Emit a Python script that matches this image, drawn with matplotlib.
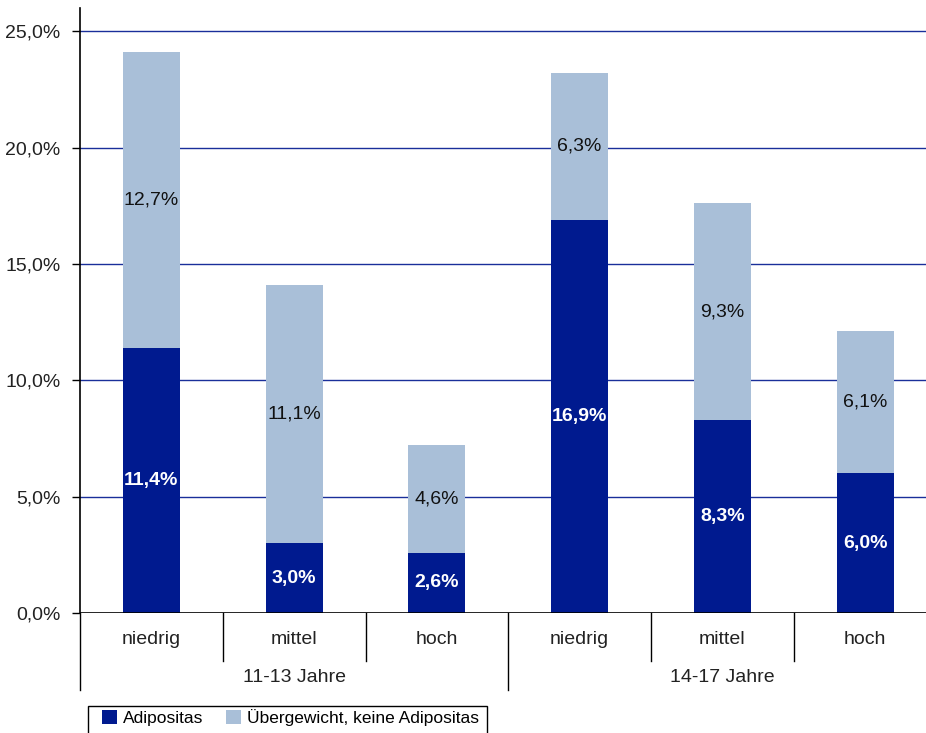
import numpy as np
import matplotlib.pyplot as plt
from matplotlib.patches import Patch, Rectangle

plt.rcParams['font.family'] = ['Liberation Sans', 'DejaVu Sans']

# data
groups = ['11-13 Jahre', '14-17 Jahre']
subcats = ['niedrig', 'mittel', 'hoch', 'niedrig', 'mittel', 'hoch']
adipositas = [11.4, 3.0, 2.6, 16.9, 8.3, 6.0]
uebergewicht = [12.7, 11.1, 4.6, 6.3, 9.3, 6.1]
series_names = ['Adipositas', 'Übergewicht, keine Adipositas']

DARK = '#001a8f'
LIGHT = '#a9bfd8'
GRID = '#1a2f9a'
FS = 14

W, H = 926, 733
fig = plt.figure(figsize=(W / 100, H / 100), dpi=100)
left, right = 80, 936.5
top, bottom = 8, 613
ax = fig.add_axes([left / W, 1 - bottom / H, (right - left) / W, (bottom - top) / H])

x = np.arange(len(subcats))
ax.bar(x, adipositas, width=0.4, color=DARK, zorder=3)
ax.bar(x, uebergewicht, width=0.4, bottom=adipositas, color=LIGHT, zorder=3)

def fmt(v):
    return f'{v:.1f}%'.replace('.', ',')

for xi, a, u in zip(x, adipositas, uebergewicht):
    ax.text(xi, a / 2, fmt(a), ha='center', va='center', color='white',
            fontweight='bold', fontsize=FS, zorder=4)
    ax.text(xi, a + u / 2, fmt(u), ha='center', va='center', color='#111111',
            fontsize=FS, zorder=4)

ax.set_xlim(-0.5, len(subcats) - 0.5)
ax.set_ylim(0, 26)
ax.set_yticks(np.arange(0, 26, 5))
ax.set_yticklabels([fmt(v) for v in np.arange(0, 26, 5)], fontsize=FS, color='#222222')
ax.tick_params(axis='y', direction='out', length=6, width=1, pad=8)
ax.set_xticks([])
for yv in range(5, 26, 5):
    ax.axhline(yv, color=GRID, linewidth=1, zorder=1)
ax.axhline(0, color='black', linewidth=1.2, zorder=4)

for s in ['top', 'right', 'bottom']:
    ax.spines[s].set_visible(False)
ax.spines['left'].set_linewidth(1.2)

# hierarchical category axis below the plot
tr = ax.get_xaxis_transform()
px = 1 / (bottom - top)  # one pixel in axes fraction
for i, name in enumerate(subcats):
    ax.text(i, -27 * px, name, transform=tr, ha='center', va='center',
            fontsize=FS, color='#222222')
for b in [0.5, 1.5, 3.5, 4.5]:
    ax.plot([b, b], [0, -48 * px], transform=tr, color='black', lw=1, clip_on=False)
for b in [-0.5, 2.5, 5.5]:
    ax.plot([b, b], [0, -77 * px], transform=tr, color='black', lw=1, clip_on=False)
for g, name in enumerate(groups):
    ax.text(g * 3 + 1, -64 * px, name, transform=tr, ha='center', va='center',
            fontsize=FS, color='#222222')

# legend: frame drawn separately so horizontal padding can be wider than vertical
fig.patches.append(Rectangle((88 / W, 1 - 740 / H), (487 - 88) / W, 34 / H,
                             transform=fig.transFigure, fill=False,
                             edgecolor='black', linewidth=1))
handles = [Patch(facecolor=DARK), Patch(facecolor=LIGHT)]
fig.legend(handles, series_names, loc='upper left',
           bbox_to_anchor=(102 / W, 1 - 709 / H), ncol=2, fontsize=12.5,
           frameon=False, handlelength=0.85, handleheight=0.85,
           handletextpad=0.35, columnspacing=1.3, borderpad=0, borderaxespad=0)

fig.savefig('out.png', dpi=100)
